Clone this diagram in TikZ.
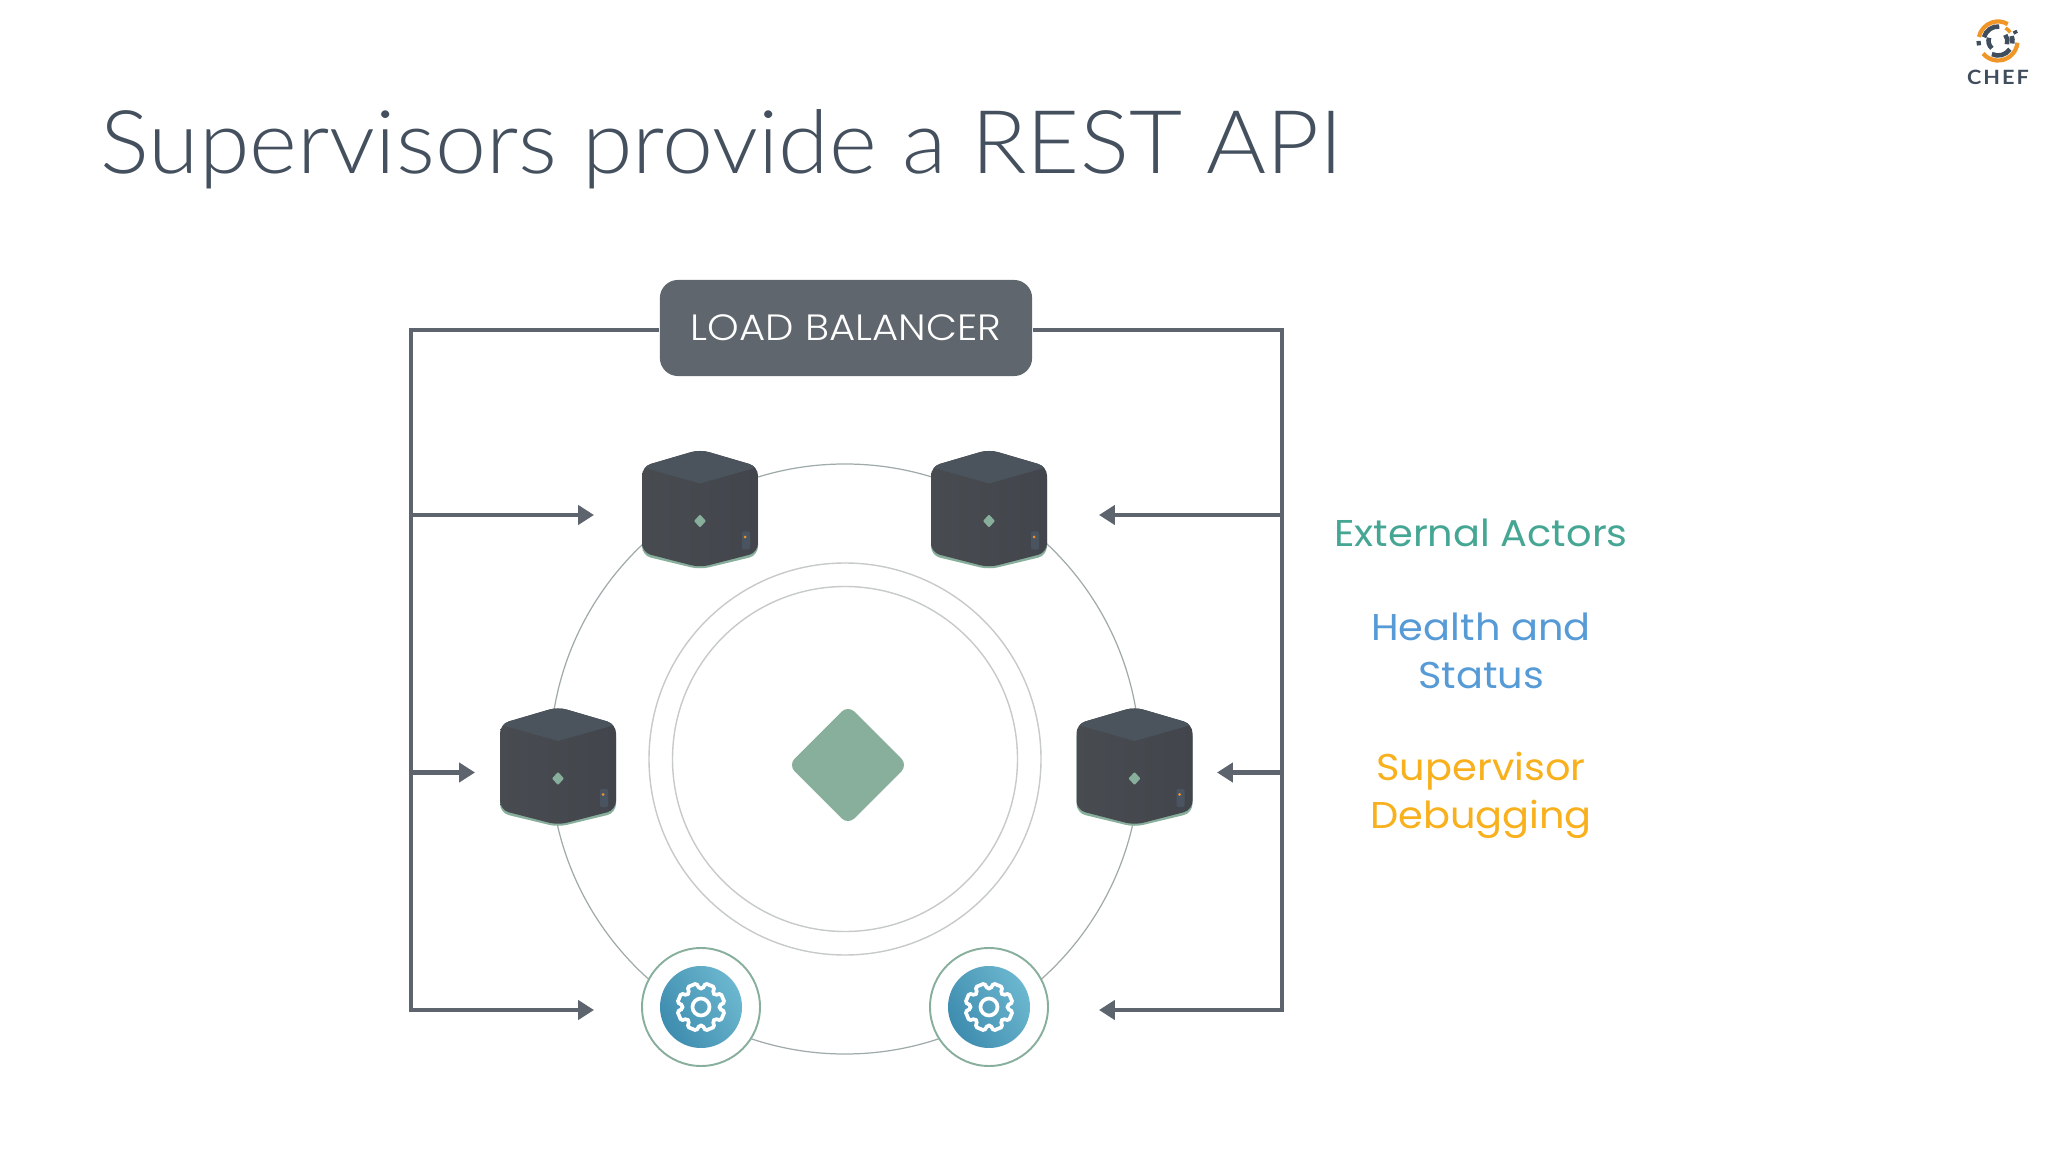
\documentclass[tikz,border=0pt]{standalone}
\usepackage{fontspec}
\setmainfont{Lato}
\newfontfamily\titlefont[FakeStretch=1.042]{Lato Light}
\newfontfamily\labelfont[FakeStretch=1.07]{Poppins}
\newfontfamily\boxfont[FakeStretch=1.1]{Poppins Light}
\newfontfamily\cheffont[FakeStretch=1.1,LetterSpace=10]{Lato}
\usetikzlibrary{arrows.meta,shapes.geometric}
\definecolor{linegray}{RGB}{93,100,110}
\definecolor{boxgray}{RGB}{95,102,109}
\definecolor{titlegray}{RGB}{68,80,94}
\definecolor{ringdark}{RGB}{160,170,170}
\definecolor{ringlight}{RGB}{198,202,202}
\definecolor{sage}{RGB}{136,174,156}
\definecolor{actorgreen}{RGB}{70,166,148}
\definecolor{healthblue}{RGB}{86,154,214}
\definecolor{debugorange}{RGB}{248,176,28}
\definecolor{chefdark}{RGB}{63,77,92}
\definecolor{cheforange}{RGB}{240,150,40}
\definecolor{cubeleft}{RGB}{72,76,81}
\definecolor{cuberight}{RGB}{66,69,75}
\definecolor{cubetop}{RGB}{75,84,92}
\definecolor{cubeport}{RGB}{74,84,96}
\definecolor{gearleft}{RGB}{62,140,175}
\definecolor{gearright}{RGB}{108,183,207}
\tikzset{%
  >={Triangle[width=5.4pt,length=4.5pt]},
  % Specifications for style of nodes:
  balancer/.style = {rectangle, rounded corners=0.18cm, fill=boxgray,
    minimum width=3.72cm, minimum height=0.96cm, inner sep=0,
    text=white, font=\boxfont\fontsize{10.4}{12}\selectfont},
  legend/.style = {align=center, inner sep=0, anchor=base,
    font=\labelfont\fontsize{10.6}{13.37}\selectfont},
  trunk/.style = {draw=linegray, line width=1.3pt},
  ring/.style = {draw=ringdark, line width=0.35pt},
  innerring/.style = {draw=ringlight, line width=0.4pt},
  hubstone/.style = {diamond, fill=sage, rounded corners=0.09cm,
    minimum size=1.2cm, inner sep=0},
  pics/cube/.style = {code = {
    \fill[sage, rounded corners=0.09cm] (-58,-38) -- (0,-56) -- (58,-38) -- (58,47) -- (0,61) -- (-58,47) -- cycle;
    \begin{scope}
      \clip[rounded corners=0.09cm] (-58,-42) -- (0,-59) -- (58,-42) -- (58,44) -- (0,59) -- (-58,44) -- cycle;
      \shade[left color=cubeleft, right color=cuberight] (-60,-60) rectangle (60,60);
      \fill[cubetop] (-60,-42) -- (0,-60) -- (60,-42) -- (0,-25) -- cycle;
    \end{scope}
    \fill[sage, rounded corners=0.01cm] (0,6) -- (6,12.5) -- (0,19) -- (-6,12.5) -- cycle;
    \fill[cubeport, rounded corners=0.02cm] (42,23) rectangle (50,41);
    \fill[cheforange] (45,28.5) circle (1.5);
  }},
  pics/gearbadge/.style = {code = {
    \filldraw[fill=white, draw=sage, line width=0.55pt] (0,0) circle (59);
    \shade[left color=gearleft, right color=gearright, shading angle=120] (0,0) circle (41);
    \draw[white, line width=1.05pt, rounded corners=0.015cm] (5:18.5)
      \foreach \a in {0,45,...,315} {
        -- (\a+5:18.5) -- (\a+11:24) -- (\a+34:24) -- (\a+40:18.5)
      } -- cycle;
    \draw[white, line width=1.05pt] (0,0) circle (8.5);
  }},
}
\begin{document}
\begin{tikzpicture}[x=0.01cm, y=-0.01cm]
  \useasboundingbox (0,0) rectangle (2048,1152);
  % Specification of nodes (position, etc.)
  \node(Title)[anchor=base west, inner sep=0, text=titlegray,
    font=\titlefont\fontsize{25}{28}\selectfont] at (100,174) {Supervisors provide a REST API};

  \node(Balancer)[balancer] at (846,328) {LOAD BALANCER};

  \coordinate(Hub) at (845,759);
  \draw[ring] (Hub) circle (295);
  \draw[innerring] (Hub) circle (196);
  \draw[innerring] (Hub) circle (172.5);
  \node(Core)[hubstone] at (848,765) {};

  % supervisors and actors
  \foreach \name/\x/\y in {CubeA/700/508.5, CubeB/989/508.5, CubeC/558/766, CubeD/1134.5/766}
    \pic (\name) at (\x,\y) {cube};
  \foreach \name/\x in {GearA/701, GearB/989}
    \pic (\name) at (\x,1007) {gearbadge};

  % connectors
  \coordinate(LeftTop) at (411,330);
  \coordinate(LeftBot) at (411,1010);
  \coordinate(RightTop) at (1282,330);
  \coordinate(RightBot) at (1282,1010);
  \coordinate(LeftA) at (411,515);
  \coordinate(LeftB) at (411,772.5);
  \coordinate(RightA) at (1282,515);
  \coordinate(RightB) at (1282,772.5);
  \coordinate(InA) at (594,515);
  \coordinate(InB) at (475,772.5);
  \coordinate(InC) at (594,1010);
  \coordinate(InD) at (1099,515);
  \coordinate(InE) at (1217,772.5);
  \coordinate(InF) at (1099,1010);
  \draw[trunk,->] (Balancer.west |- LeftTop) -- (LeftTop) -- (LeftBot) -- (InC);
  \draw[trunk,->] (Balancer.east |- RightTop) -- (RightTop) -- (RightBot) -- (InF);
  \draw[trunk,->] (LeftA) -- (InA);
  \draw[trunk,->] (LeftB) -- (InB);
  \draw[trunk,->] (RightA) -- (InD);
  \draw[trunk,->] (RightB) -- (InE);

  % legend on the right
  \node(Actors)[legend, text=actorgreen] at (1481,547) {External Actors};
  \node(Health)[legend, text=healthblue] at (1481,688) {Health and\\Status};
  \node(Debug)[legend, text=debugorange] at (1481,828) {Supervisor\\Debugging};

  % logo
  \coordinate(Logo) at (1998,41);
  \foreach \col/\rad/\wid/\from/\to in {
      cheforange/19.5/1.2/5/140, cheforange/19.5/1.2/192/300,
      chefdark/19.5/1.2/-32/-22, chefdark/19.5/1.2/167/180,
      cheforange/15/1/-60/-35,
      chefdark/14.5/1.3/195/275, chefdark/14.5/1.3/35/115, chefdark/14.5/1.3/-20/10,
      chefdark/9.5/1.3/130/200, chefdark/9.5/1.3/-40/20}
    \draw[\col, line width=\wid pt] (Logo) ++(\from:\rad) arc[start angle=\from, end angle=\to, radius=\rad];
  \node(Chef)[inner sep=0, text=chefdark, anchor=base,
    font=\cheffont\bfseries\fontsize{5.6}{6}\selectfont] at (1998,85) {CHEF};
\end{tikzpicture}
\end{document}
